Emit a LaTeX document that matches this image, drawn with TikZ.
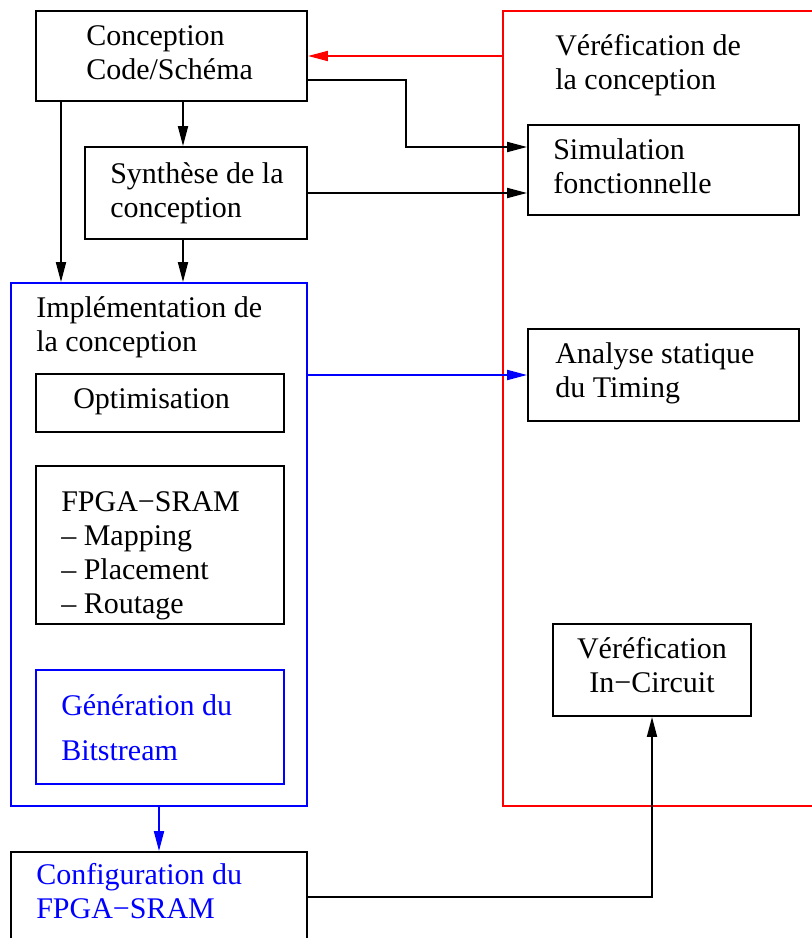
\documentclass[tikz,border=0pt]{standalone}
\usepackage{fontspec}
\setmainfont{Liberation Serif}
\usetikzlibrary{arrows.meta,fit}
\definecolor{myred}{RGB}{255,0,0}
\definecolor{myblue}{RGB}{0,0,255}
\begin{document}
\begin{tikzpicture}[x=0.75pt,y=-0.75pt,
  box/.style={draw, line width=1.4pt, inner sep=0pt},
  bbox/.style={box, draw=myblue},
  rbox/.style={box, draw=myred},
  txt/.style={anchor=base west, inner sep=0pt, align=left, font=\fontsize{22.5pt}{25.5pt}\selectfont},
  arr/.style={line width=1.4pt, -{Triangle[length=15pt,width=7.5pt]}},
]
\useasboundingbox (0,0) rectangle (811,938);
\fill[white] (0,0) rectangle (811,938);
% boxes
\node[rbox, fit={(503,11) (830,806)}] (V) {};
\node[box, fit={(36,11) (307,101)}] (A) {};
\node[box, fit={(85,147) (307,239)}] (B) {};
\node[bbox, fit={(11,283) (307,806)}] (I) {};
\node[box, fit={(36,374) (284,432)}] (O) {};
\node[box, fit={(36,466) (284,624)}] (F) {};
\node[bbox, fit={(36,670) (284,784)}] (G) {};
\node[box, fit={(11,852) (307,960)}] (C) {};
\node[box, fit={(528,125) (799,215)}] (S) {};
\node[box, fit={(528,329) (799,421)}] (T) {};
\node[box, fit={(553,624) (751,716)}] (K) {};
% texts (anchor = baseline of the last line)
\node[txt] (tA) at (86,80) {Conception\\Code/Schéma};
\node[txt] (tB) at (110,217) {Synthèse de la\\conception};
\node[txt] (tV) at (555,90) {Véréfication de\\la conception};
\node[txt] (tS) at (553,194) {Simulation\\fonctionnelle};
\node[txt] (tI) at (36,351) {Implémentation de\\la conception};
\node[txt] (tO) at (73,408) {Optimisation};
\node[txt] (tT) at (555,397) {Analyse statique\\du Timing};
\node[txt] (tF) at (61,613) {FPGA−SRAM\\– Mapping\\– Placement\\– Routage};
\node[txt, text=myblue, font=\fontsize{22.5pt}{33.75pt}\selectfont] (tG) at (61,760) {Génération du\\Bitstream};
\node[txt, align=center, anchor=base] (tK) at (652,692) {Véréfication\\In−Circuit};
\node[txt, text=myblue] (tC) at (36,918) {Configuration du\\FPGA−SRAM};
% connectors
\draw[arr, myred] (V.west |- A.east) -- (A.east);
\draw[arr] ([yshift=16.5pt]A.south east) -- ++(98,0) |- ([yshift=17.25pt]S.west);
\draw[arr] (B.east) -- (B.east -| S.west);
\draw[arr] (A.south -| 183,0) -- (B.north -| 183,0);
\draw[arr] (A.south -| 61,0) -- (I.north -| 61,0);
\draw[arr] (B.south -| 183,0) -- (I.north -| 183,0);
\draw[arr, myblue] (I.east |- T.west) -- (T.west);
\draw[arr, myblue] (I.south) -- (C.north);
\draw[arr] (C.east |- 0,897) -| (K.south);
\end{tikzpicture}
\end{document}
